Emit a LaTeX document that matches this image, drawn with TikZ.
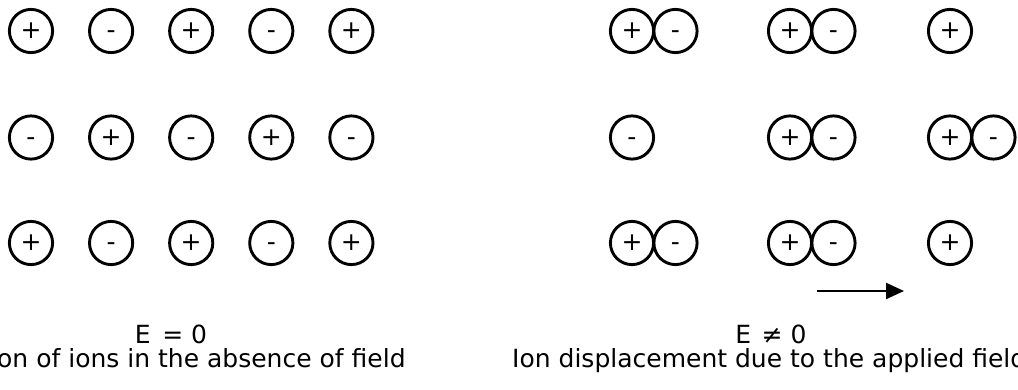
\documentclass[tikz,border=0pt]{standalone}
\usepackage{fontspec}
\setmainfont{DejaVu Sans}
\usetikzlibrary{arrows.meta}
\begin{document}
\begin{tikzpicture}[x=1pt, y=-1pt,
  ion/.style={circle, draw=black, line width=2.9pt, minimum size=43.2pt,
    inner sep=0pt, text height=15.6pt, text depth=0pt,
    font=\fontsize{25}{30}\selectfont},
  label/.style={font=\fontsize{25}{30}\selectfont, inner sep=0pt, anchor=base},
  field/.style={line width=2.3pt, -{Triangle[length=18pt,width=16pt]}}]
\useasboundingbox (0,0) rectangle (1018,390);
\clip (0,0) rectangle (1018,390);

% ---- lattice without applied field: alternating ions ----
\foreach \s [count=\i from 0] in {+,-,+,-,+}
  \node[ion] (a1\i) at ({31+80.1*\i}, 31) {\s};
\foreach \s [count=\i from 0] in {-,+,-,+,-}
  \node[ion] (a2\i) at ({31+80.1*\i}, 137.5) {\s};
\foreach \s [count=\i from 0] in {+,-,+,-,+}
  \node[ion] (a3\i) at ({31+80.1*\i}, 243) {\s};

% ---- lattice with applied field: displaced ions ----
% row 1
\node[ion] (b1p1) at (632,31)   {+};
\node[ion] (b1m1) at (675.5,31) {-};
\node[ion] (b1p2) at (790,31)   {+};
\node[ion] (b1m2) at (833.5,31) {-};
\node[ion] (b1p3) at (950,31)   {+};
% row 2
\node[ion] (b2m1) at (632,137.5)   {-};
\node[ion] (b2p2) at (790,137.5)   {+};
\node[ion] (b2m2) at (833.5,137.5) {-};
\node[ion] (b2p3) at (950,137.5)   {+};
\node[ion] (b2m3) at (993.5,137.5) {-};
% row 3
\node[ion] (b3p1) at (632,243)   {+};
\node[ion] (b3m1) at (675.5,243) {-};
\node[ion] (b3p2) at (790,243)   {+};
\node[ion] (b3m2) at (833.5,243) {-};
\node[ion] (b3p3) at (950,243)   {+};

% field direction
\coordinate (f0) at (817,291);
\coordinate (f1) at (904,291);
\draw[field] (f0) -- (f1);

% labels
\node[label] (e0) at (171,343.5) {E\hspace{0.15em} = 0};
\node[label] (e1) at (771,343.5) {E\hspace{0.1em} ≠ 0};
\node[label, anchor=base west] (cap0) at (-3,367.5) {on of ions in the absence of field};
\node[label, anchor=base west] (cap1) at (512,367.5) {Ion displacement due to the applied field};
\end{tikzpicture}
\end{document}
